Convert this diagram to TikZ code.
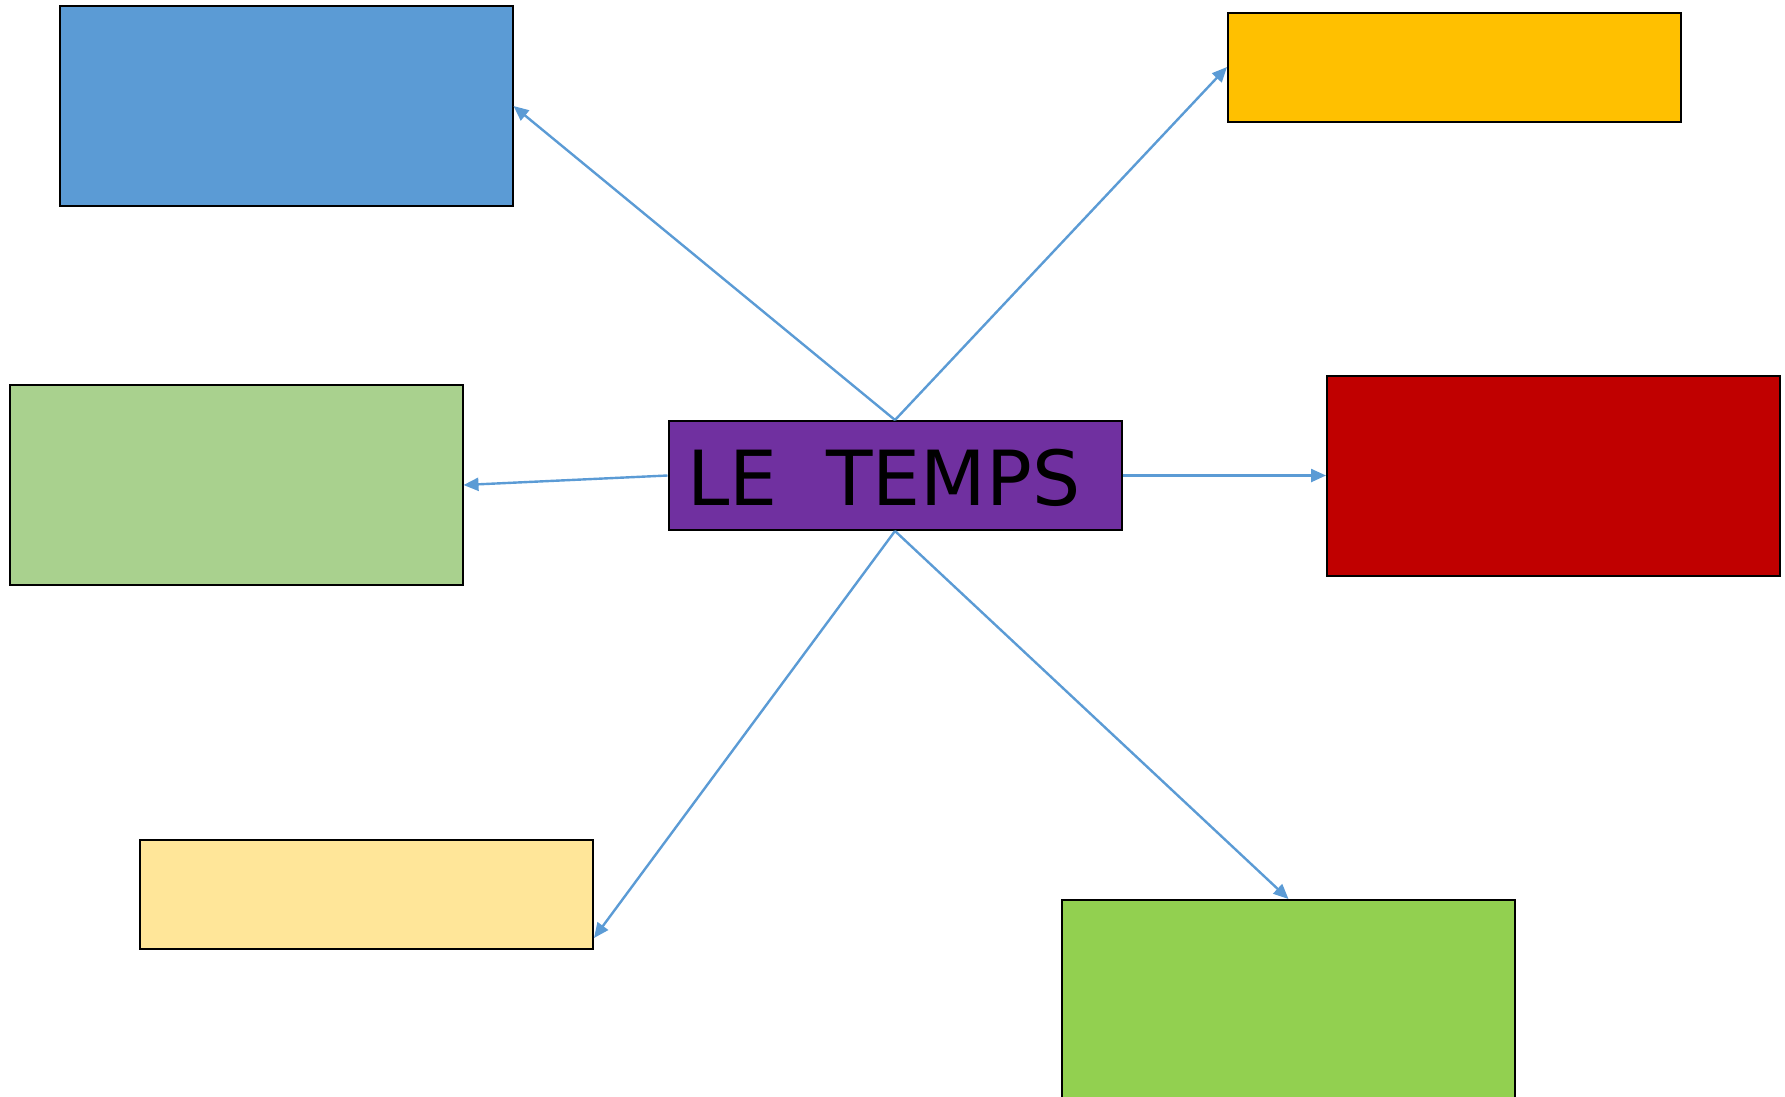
\documentclass[tikz,border=0pt]{standalone}
\usepackage{fontspec}
\setmainfont{DejaVu Sans}
\usetikzlibrary{arrows.meta,calc}
\definecolor{cblue}{HTML}{5B9BD5}
\definecolor{corange}{HTML}{FFC000}
\definecolor{clgreen}{HTML}{A9D18E}
\definecolor{cpurple}{HTML}{7030A0}
\definecolor{cred}{HTML}{C00000}
\definecolor{clyellow}{HTML}{FFE699}
\definecolor{cgreen}{HTML}{92D050}
\tikzset{
  boxtall/.style={draw=black, line width=2pt, rectangle, inner sep=0pt, minimum width=453pt, minimum height=200pt},
  boxshort/.style={draw=black, line width=2pt, rectangle, inner sep=0pt, minimum width=453pt, minimum height=109pt},
  conn/.style={draw=cblue, line width=2.4pt, -{Triangle[length=15pt,width=13pt]}}
}
\begin{document}
\begin{tikzpicture}[x=1pt,y=-1pt]
\useasboundingbox (0,0) rectangle (1785,1096);
\node[boxtall, fill=cblue] (blue) at (286,106) {};
\node[boxshort, fill=corange] (orange) at (1454.5,67) {};
\node[boxtall, fill=clgreen] (lgreen) at (236,485) {};
\node[boxshort, fill=cpurple] (center) at (895,475.5) {};
\node[font=\fontsize{76}{80}\selectfont, inner sep=0pt] (title) at (884,478) {LE~~TEMPS};
\node[boxtall, fill=cred] (red) at (1553.5,475.5) {};
\node[boxshort, fill=clyellow] (lyellow) at (366,894.5) {};
\node[boxtall, fill=cgreen] (green) at (1288.5,1000) {};
\coordinate (lyend) at (594,938);
\draw[conn] (center.north) -- (blue.east);
\draw[conn] (center.north) -- (orange.west);
\draw[conn] (center.west) -- (lgreen.east);
\draw[conn] (center.east) -- (red.west);
\draw[conn] (center.south) -- (lyend);
\draw[conn] (center.south) -- (green.north);
\end{tikzpicture}
\end{document}
